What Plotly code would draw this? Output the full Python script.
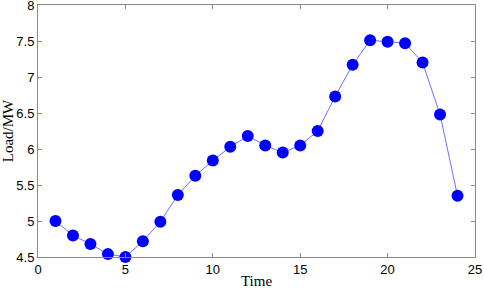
import plotly.graph_objects as go

time = list(range(1, 25))
load = [5.00, 4.80, 4.68, 4.54, 4.50, 4.72, 4.99, 5.36, 5.63, 5.84, 6.03, 6.18,
        6.05, 5.95, 6.05, 6.25, 6.73, 7.17, 7.51, 7.49, 7.47, 7.20, 6.48, 5.35]

x_ticks = [0, 5, 10, 15, 20, 25]
y_ticks = [4.5, 5, 5.5, 6, 6.5, 7, 7.5, 8]

fig = go.Figure()
fig.add_trace(go.Scatter(
    x=time, y=load, mode="lines+markers",
    line=dict(color="#7070ff", width=1),
    marker=dict(color="#0000ff", size=12, symbol="circle"),
    cliponaxis=False,
))

axis_common = dict(
    showgrid=False, zeroline=False, showline=True, mirror="ticks",
    linecolor="#8a8a8a", linewidth=1, ticks="inside", ticklen=4,
    tickcolor="#8a8a8a", tickfont=dict(family="Liberation Sans, Arial", size=13, color="black"),
    automargin=False, ticklabeloverflow="allow",
)

title_font = dict(family="Liberation Serif, Times New Roman", size=15, color="black")

fig.update_xaxes(range=[0, 25], tickvals=x_ticks, ticktext=[str(v) for v in x_ticks],
                 title=dict(text="Time", font=title_font, standoff=0),
                 **axis_common)
fig.update_yaxes(range=[4.5, 8], tickvals=y_ticks, ticktext=[f"{v:g}" for v in y_ticks],
                 title=dict(text="Load/MW", font=title_font, standoff=0),
                 **axis_common)

fig.update_layout(
    width=484, height=289,
    margin=dict(l=38, r=9, t=5, b=32),
    plot_bgcolor="white", paper_bgcolor="white",
    showlegend=False,
)

fig.write_html("out.html", config={"displayModeBar": False},
               post_script="document.body.style.margin='0';document.body.style.padding='0';")
